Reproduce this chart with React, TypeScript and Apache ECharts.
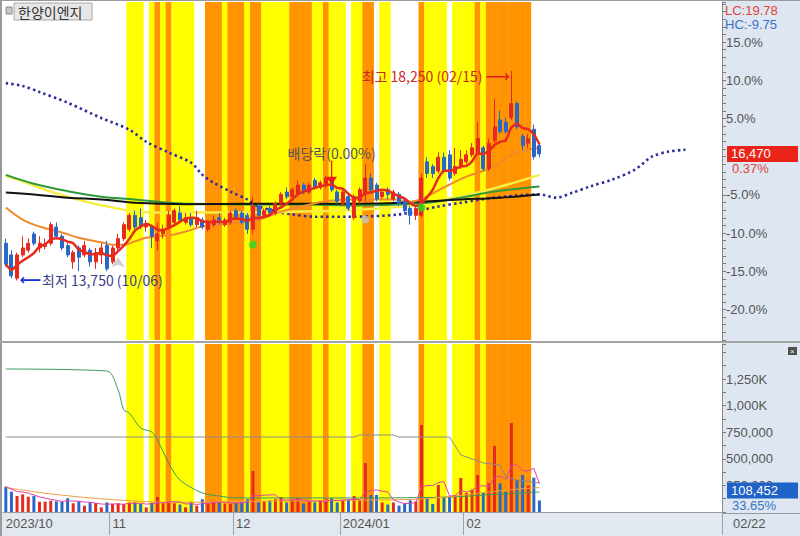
import React, { useEffect, useRef } from "react";
import * as echarts from "echarts";

const TITLE = "한양이엔지";
const LAST_DATE = "02/22";
const TOTAL_SLOTS = 128;
const MONTH_START = [0, 19, 41, 60, 82];
const MONTH_LABEL = ["2023/10", "11", "12", "2024/01", "02"];

const OPEN = [
  14550, 14300, 13800, 14300, 14400, 14750, 14450, 14480, 14550, 14900, 14700, 14500, 14150, 14450, 14300, 14400, 14150, 14300, 14500,
  14150, 14450, 14650, 14850, 15150, 15100, 14900, 14900, 14600, 14750, 14900, 15000, 15200, 15000, 15100, 14950, 15050, 14850, 14950, 15100, 14950, 15000,
  15250, 15200, 15150, 14850, 15350, 15150, 15300, 15200, 15400, 15650, 15550, 15600, 15800, 15650, 15900, 15750, 15800, 15900, 15650,
  15400, 15550, 15100, 15450, 15600, 15950, 15800, 15550, 15700, 15500, 15600, 15450, 15300, 15150, 15150, 16300, 16200, 16100, 16400, 16450, 16050, 16200,
  16300, 16450, 16500, 16600, 16150, 16750, 17200, 17150, 17250, 17550, 16850, 16700, 17000, 16650,
];
const HIGH = [
  14650, 14400, 14350, 14700, 14650, 14800, 14700, 14650, 15000, 15000, 14750, 14550, 14400, 14500, 14600, 14450, 14450, 14550, 14600,
  14500, 14750, 15000, 15200, 15250, 15300, 15050, 14950, 15000, 14950, 15250, 15300, 15350, 15200, 15200, 15250, 15100, 15050, 15150, 15200, 15100, 15250,
  15300, 15250, 15200, 15550, 15400, 15300, 15350, 15450, 15650, 15750, 15750, 15900, 15850, 15850, 15950, 15900, 16000, 15950, 15700,
  15700, 15600, 15600, 15750, 16250, 16050, 15850, 15700, 15750, 15700, 15650, 15500, 15350, 15350, 16050, 16400, 16250, 16500, 16500, 16550, 16600, 16550,
  16550, 16700, 17150, 16650, 16800, 17650, 17400, 17250, 18250, 17600, 16900, 16900, 17100, 16700,
];
const LOW = [
  14050, 13800, 13750, 14250, 14350, 14500, 14350, 14420, 14500, 14650, 14400, 14250, 14000, 13950, 14250, 14050, 14000, 14100, 13950,
  14100, 14400, 14600, 14800, 14850, 14850, 14800, 14450, 14400, 14650, 14850, 14950, 15000, 14950, 14900, 14900, 14850, 14800, 14900, 14950, 14900, 14950,
  15050, 14950, 14750, 14750, 15050, 15100, 15150, 15150, 15350, 15500, 15500, 15550, 15600, 15600, 15700, 15700, 15750, 15650, 15400,
  15350, 15250, 15050, 15400, 15450, 15650, 15450, 15500, 15500, 15450, 15350, 15200, 14950, 15050, 15100, 15950, 15950, 16050, 16050, 15900, 16000, 16150,
  16250, 16400, 16450, 16100, 16100, 16700, 16900, 16900, 17200, 17000, 16550, 16600, 16350, 16400,
];
const CLOSE = [
  14100, 13850, 14300, 14450, 14550, 14550, 14550, 14530, 14950, 14700, 14450, 14300, 14350, 14250, 14500, 14150, 14350, 14450, 14000,
  14450, 14650, 14950, 15150, 14900, 14900, 14950, 14700, 14750, 14850, 15150, 15250, 15050, 15100, 14950, 15100, 14900, 15000, 15050, 15000, 15050, 15200,
  15100, 15000, 14850, 15350, 15150, 15250, 15200, 15400, 15600, 15550, 15700, 15800, 15650, 15800, 15750, 15850, 15950, 15700, 15450,
  15650, 15300, 15550, 15700, 15950, 15700, 15500, 15650, 15600, 15650, 15400, 15250, 15150, 15300, 15950, 16050, 16050, 16400, 16100, 15950, 16200, 16350,
  16450, 16600, 16800, 16150, 16700, 17050, 16950, 16950, 17550, 17050, 16650, 16800, 16410, 16470,
];
const VOLUME = [
  238000, 191000, 150000, 166000, 144000, 150000, 97000, 97000, 106000, 100000, 97000, 129000, 82000, 100000, 59000, 90000, 82000, 44000, 90000,
  75000, 82000, 75000, 88000, 90000, 75000, 44000, 88000, 141000, 82000, 97000, 82000, 70000, 44000, 97000, 59000, 120000, 82000, 97000, 88000, 82000, 75000,
  82000, 97000, 120000, 385000, 90000, 100000, 110000, 120000, 140000, 90000, 110000, 130000, 80000, 100000, 90000, 110000, 120000, 130000, 90000,
  110000, 120000, 150000, 110000, 460000, 160000, 160000, 90000, 70000, 90000, 60000, 80000, 110000, 100000, 818000, 140000, 75000, 254000, 140000, 140000, 160000, 320000,
  180000, 210000, 348000, 180000, 270000, 620000, 270000, 190000, 836000, 300000, 348000, 250000, 322294, 108452,
];
// 0 = none, 1 = yellow, 2 = orange
const BAND = [
  0, 0, 0, 0, 0, 0, 0, 0, 0, 0, 0, 0, 0, 0, 0, 0, 0, 0, 0, 0, 0, 0,
  1, 1, 1, 0, 1, 2, 1, 2, 1, 1, 1, 1, 0, 0, 2, 2, 2, 1, 2, 2, 2, 1, 2, 2,
  1, 1, 1, 1, 1, 2, 2, 2, 2, 1, 1, 2, 1, 1, 1, 0, 1, 1, 2, 2, 0, 1, 1,
  0, 0, 0, 0, 0, 2, 1, 1, 1, 1, 0, 1, 1, 1, 1, 2, 1, 2, 2, 2, 2, 2, 2, 2, 2, 0, 0,
];

const MA20_PTS = [[0, 15320], [3, 15060], [6, 14910], [10, 14780], [13, 14670], [17, 14570], [19, 14520], [21, 14520], [23, 14590], [25, 14670], [27, 14700], [30, 14740], [32, 14800], [35, 14910], [38, 14950], [45, 15060], [49, 15230], [54, 15380], [57, 15450], [61, 15490], [63, 15490], [69, 15490], [72, 15440], [74, 15500], [78, 15750], [82, 15980], [87, 16200], [90, 16450], [93, 16560], [95, 16600]];
const MA60_PTS = [[0, 16000], [3, 15880], [8, 15660], [14, 15450], [19, 15320], [23, 15230], [27, 15210], [32, 15210], [44, 15210], [52, 15230], [63, 15270], [74, 15380], [78, 15490], [86, 15700], [95, 16020]];
const MA120_PTS = [[0, 16020], [5, 15830], [11, 15670], [17, 15550], [23, 15490], [29, 15420], [32, 15400], [44, 15380], [52, 15380], [63, 15360], [75, 15420], [81, 15530], [87, 15660], [95, 15770]];
const MA240_PTS = [[0, 15640], [5, 15600], [11, 15530], [17, 15490], [23, 15420], [32, 15390], [44, 15400], [63, 15400], [70, 15420], [81, 15490], [88, 15530], [95, 15600]];
const SPAN_PTS = [[0, 17990], [3, 17930], [6, 17800], [11, 17570], [17, 17240], [22, 16990], [25, 16730], [29, 16500], [33, 16280], [35, 16020], [37, 15850], [40, 15660], [43, 15490], [45, 15340], [47, 15270], [49, 15210], [51, 15170], [55, 15120], [61, 15120], [70, 15170], [77, 15340], [81, 15420], [87, 15530], [95, 15600], [98, 15530], [101, 15640], [104, 15770], [108, 15920], [112, 16130], [115, 16410], [118, 16520], [121, 16560]];

const VOL_GREEN_PTS = [[0, 1344000], [18, 1325000], [20, 1147000], [21, 959000], [22, 930000], [24, 789000], [26, 752000], [27, 677000], [29, 461000], [31, 301000], [35, 179000], [38, 150000], [41, 132000], [47, 132000], [63, 132000], [79, 141000], [88, 169000], [95, 188000]];
const VOL_GRAY_PTS = [[0, 705000], [62, 705000], [63, 724000], [69, 724000], [70, 705000], [79, 705000], [81, 536000], [85, 461000], [88, 442000], [89, 329000], [91, 301000], [95, 273000]];
const VOL_ORANGE_PTS = [[0, 230000], [8, 170000], [18, 120000], [30, 90000], [44, 100000], [60, 110000], [73, 120000], [80, 150000], [88, 200000], [95, 230000]];

const SIGNAL_IDX = [20, 44, 64, 74];
const SIGNAL_PRICE = [14250, 14520, 15060, 15320];
const SIGNAL_KIND = ["up", "green", "gray", "green"];

const EXDIV_IDX = 58;
const EXDIV_PRICE = 16070;
const EXDIV_LABEL = "배당락(0.00%)";

const RED = "#e62a1e";
const BLUE = "#2a68c8";
const FONT = "'Liberation Sans', 'Noto Sans CJK KR', sans-serif";
const KFONT = "'Noto Sans CJK KR', 'Liberation Sans', sans-serif";
const AFONT = "'DejaVu Sans', sans-serif";

function movingAvg(arr: number[], n: number) {
  return arr.map((_, i) => {
    const w = arr.slice(Math.max(0, i - n + 1), i + 1);
    return Math.round(w.reduce((a, b) => a + b, 0) / w.length);
  });
}
const fmt = (v: number) => v.toLocaleString("en-US");

export default function App() {
  const ref = useRef<HTMLDivElement>(null);
  useEffect(() => {
    if (!ref.current) return;
    const chart = echarts.init(ref.current, undefined, { renderer: "svg" });
    const n = CLOSE.length;
    const lastClose = CLOSE[n - 1];
    const prevClose = CLOSE[n - 2];
    const BASE = prevClose;
    const lastVol = VOLUME[n - 1];
    const prevVol = VOLUME[n - 2];
    const lowest = Math.min(...LOW);
    const highest = Math.max(...HIGH);
    const lowIdx = LOW.indexOf(lowest);
    const highIdx = HIGH.indexOf(highest);
    const slots = Array.from({ length: TOTAL_SLOTS }, (_, i) => String(i));
    const ma5 = movingAvg(CLOSE, 5);
    const vma5 = movingAvg(VOLUME, 5);
    const bandData = BAND.map((b) => (b ? { value: 1, itemStyle: { color: b === 1 ? "#ffff00" : "#ff9400" } } : null));

    const option: any = {
      animation: false,
      textStyle: { fontFamily: FONT },
      grid: [
        { left: 3, top: 2, width: 719, height: 338 },
        { left: 3, top: 344, width: 719, height: 168 },
      ],
      xAxis: [
        { type: "category", gridIndex: 0, data: slots, boundaryGap: true, axisLine: { show: false }, axisTick: { show: false }, axisLabel: { show: false }, splitLine: { show: false } },
        { type: "category", gridIndex: 0, data: slots, show: false },
        {
          type: "category", gridIndex: 1, data: slots, boundaryGap: true,
          axisLine: { show: true, lineStyle: { color: "#9a9a9a" } },
          axisTick: { show: true, length: 23, interval: (i: number) => MONTH_START.includes(i) && i > 0, lineStyle: { color: "#9aa3ad" } },
          axisLabel: {
            interval: (i: number) => MONTH_START.includes(i),
            formatter: (_v: string, i: number) => MONTH_LABEL[MONTH_START.indexOf(i)] ?? "",
            align: "left", margin: 5, color: "#555", fontSize: 13, fontFamily: FONT,
          },
          splitLine: { show: false },
        },
        { type: "category", gridIndex: 1, data: slots, show: false },
      ],
      yAxis: [
        {
          type: "value", gridIndex: 0, position: "right",
          min: BASE * 0.76, max: BASE * 1.2025, interval: BASE * 0.01,
          axisLine: { show: true, lineStyle: { color: "#8a8a8a" } },
          axisTick: { show: true, length: 4, lineStyle: { color: "#7a7a7a" } },
          splitLine: { show: false },
          axisLabel: {
            margin: 4, color: "#555", fontSize: 13, fontFamily: FONT,
            formatter: (v: number) => {
              const p = (v / BASE - 1) * 100;
              const r = Math.round(p);
              if (Math.abs(p - r) > 0.1 || r % 5 !== 0 || r === 0 || r > 15) return "";
              return r.toFixed(1) + "%";
            },
          },
        },
        {
          type: "value", gridIndex: 1, position: "right", min: 0, max: 1579000, interval: 125000,
          axisLine: { show: true, lineStyle: { color: "#8a8a8a" } },
          axisTick: { show: true, length: 4, lineStyle: { color: "#7a7a7a" } },
          splitLine: { show: false },
          axisLabel: {
            margin: 4, color: "#555", fontSize: 13, fontFamily: FONT,
            formatter: (v: number) => {
              if (v <= 0 || v % 250000 !== 0 || v > 1250000) return "";
              return v >= 1000000 ? fmt(v / 1000) + "K" : fmt(v);
            },
          },
        },
        { type: "value", gridIndex: 0, min: 0, max: 1, show: false },
        { type: "value", gridIndex: 1, min: 0, max: 1, show: false },
      ],
      series: [
        { type: "bar", name: "band1", xAxisIndex: 1, yAxisIndex: 2, data: bandData, barWidth: 6, silent: true, z: 0 },
        { type: "bar", name: "band2", xAxisIndex: 3, yAxisIndex: 3, data: bandData, barWidth: 6, silent: true, z: 0 },
        { type: "line", name: "span", xAxisIndex: 0, yAxisIndex: 0, data: SPAN_PTS, showSymbol: false, smooth: 0.3, lineStyle: { color: "#2b2b9c", width: 2.6, type: [2.4, 3.2] }, z: 2 },
        { type: "line", name: "MA60", xAxisIndex: 0, yAxisIndex: 0, data: MA60_PTS, showSymbol: false, smooth: 0.4, lineStyle: { color: "#f6ee40", width: 2.5 }, z: 2 },
        { type: "line", name: "MA120", xAxisIndex: 0, yAxisIndex: 0, data: MA120_PTS, showSymbol: false, smooth: 0.4, lineStyle: { color: "#2f9a3c", width: 2 }, z: 2 },
        { type: "line", name: "MA240", xAxisIndex: 0, yAxisIndex: 0, data: MA240_PTS, showSymbol: false, smooth: 0.4, lineStyle: { color: "#111111", width: 2 }, z: 2 },
        { type: "line", name: "MA20", xAxisIndex: 0, yAxisIndex: 0, data: MA20_PTS, showSymbol: false, smooth: 0.4, lineStyle: { color: "#f08a2c", width: 2 }, z: 2 },
        {
          type: "candlestick", name: "price", xAxisIndex: 0, yAxisIndex: 0, barWidth: 3.5,
          data: OPEN.map((o, i) => [o, CLOSE[i], LOW[i], HIGH[i]]),
          itemStyle: { color: RED, color0: BLUE, borderColor: RED, borderColor0: BLUE, borderWidth: 1 },
          z: 3,
          markPoint: {
            silent: true,
            data: [
              {
                coord: [highIdx, highest], symbol: "circle", symbolSize: 1, itemStyle: { color: "transparent" },
                label: { show: true, position: "left", distance: 1, offset: [0, 5], formatter: `{t|최고 ${fmt(highest)} (02/15)}{a|⟶}`,
                  rich: { t: { color: "#c8281e", fontSize: 14, fontFamily: KFONT }, a: { color: "#e02020", fontSize: 17, padding: [0, 0, 0, 3], fontFamily: AFONT } } },
              },
              {
                coord: [lowIdx, lowest], symbol: "circle", symbolSize: 1, itemStyle: { color: "transparent" },
                label: { show: true, position: "right", distance: 2, offset: [0, 0], formatter: `{a|⟵}{t|최저 ${fmt(lowest)} (10/06)}`,
                  rich: { t: { color: "#3a3f86", fontSize: 14, fontFamily: KFONT }, a: { color: "#1430e0", fontSize: 15, fontWeight: "bold", fontFamily: AFONT, padding: [0, 1, 0, 0] } } },
              },
              {
                coord: [EXDIV_IDX, EXDIV_PRICE], symbol: "path://M4.4 0 H5.6 V15 H10 L5 22 L0 15 H4.4 Z", symbolSize: [11, 24],
                itemStyle: { color: "#e8201a" },
                label: { show: true, position: "top", distance: 1, formatter: EXDIV_LABEL, color: "#555", fontSize: 14, fontFamily: KFONT },
              },
            ],
          },
        },
        {
          type: "line", name: "MA5", xAxisIndex: 0, yAxisIndex: 0, data: ma5, showSymbol: false, smooth: 0.2,
          lineStyle: { color: RED, width: 2.5 }, z: 4,
        },
        {
          type: "scatter", name: "signal", xAxisIndex: 0, yAxisIndex: 0, z: 5,
          data: SIGNAL_IDX.map((idx, i) => ({
            value: [idx, SIGNAL_PRICE[i]],
            symbol: SIGNAL_KIND[i] === "up" ? "arrow" : "circle",
            symbolSize: SIGNAL_KIND[i] === "up" ? 10 : 8,
            itemStyle: { color: SIGNAL_KIND[i] === "green" ? "#22e022" : "#c4c4c4" },
          })),
        },
        {
          type: "bar", name: "volume", xAxisIndex: 2, yAxisIndex: 1, barWidth: 3, z: 3,
          data: VOLUME.map((v, i) => ({ value: v, itemStyle: { color: CLOSE[i] >= OPEN[i] ? RED : BLUE } })),
        },
        { type: "line", name: "volGreen", xAxisIndex: 2, yAxisIndex: 1, data: VOL_GREEN_PTS, showSymbol: false, smooth: 0.3, lineStyle: { color: "#3a9a5e", width: 1 }, z: 4 },
        { type: "line", name: "volGray", xAxisIndex: 2, yAxisIndex: 1, data: VOL_GRAY_PTS, showSymbol: false, lineStyle: { color: "#8c8c8c", width: 1 }, z: 4 },
        { type: "line", name: "volOrange", xAxisIndex: 2, yAxisIndex: 1, data: VOL_ORANGE_PTS, showSymbol: false, smooth: 0.3, lineStyle: { color: "#f0a040", width: 1 }, z: 4 },
        { type: "line", name: "volMA5", xAxisIndex: 2, yAxisIndex: 1, data: vma5, showSymbol: false, lineStyle: { color: "#e040a8", width: 1 }, z: 4 },
      ],
    };
    chart.setOption(option);

    const yPrice = chart.convertToPixel({ yAxisIndex: 0 } as any, lastClose) as unknown as number;
    const yVolRaw = chart.convertToPixel({ yAxisIndex: 1 } as any, lastVol) as unknown as number;
    const yVol = Math.min(yVolRaw, 490.5);
    const pricePct = ((lastClose / prevClose - 1) * 100).toFixed(2) + "%";
    const volPct = ((lastVol / prevVol) * 100).toFixed(2) + "%";
    const lc = ((lastClose / lowest - 1) * 100).toFixed(2);
    const hc = ((lastClose / highest - 1) * 100).toFixed(2);
    const txt = (text: string, x: number, y: number, fill: string, size = 13, family = FONT, z = 100) => ({
      type: "text", z, silent: true,
      style: { text, x, y, fill, fontSize: size, fontFamily: family, verticalAlign: "middle", align: "left" },
    });

    chart.setOption({
      graphic: [
        { type: "rect", z: -10, silent: true, shape: { x: 723, y: 0, width: 77, height: 536 }, style: { fill: "#dde6f1" } },
        { type: "rect", z: -10, silent: true, shape: { x: 0, y: 513, width: 723, height: 23 }, style: { fill: "#e2e8f0" } },
        { type: "line", z: 50, silent: true, shape: { x1: 0, y1: 0.5, x2: 800, y2: 0.5 }, style: { stroke: "#9a9a9a", lineWidth: 1 } },
        { type: "line", z: 50, silent: true, shape: { x1: 1, y1: 0, x2: 1, y2: 536 }, style: { stroke: "#9a9a9a", lineWidth: 2 } },
        { type: "line", z: 50, silent: true, shape: { x1: 0, y1: 342, x2: 800, y2: 342 }, style: { stroke: "#a4a4a4", lineWidth: 2 } },
        { type: "line", z: 50, silent: true, shape: { x1: 723, y1: 513.5, x2: 800, y2: 513.5 }, style: { stroke: "#9a9a9a", lineWidth: 1 } },
        { type: "rect", z: 60, silent: true, shape: { x: 6, y: 7, width: 6, height: 7 }, style: { fill: "#c8c8c8", stroke: "#8a8a8a", lineWidth: 1 } },
        { type: "rect", z: 60, silent: true, shape: { x: 14, y: 3, width: 78, height: 17 }, style: { fill: "#e6e6e6", stroke: "#a8a8a8", lineWidth: 1 } },
        txt(TITLE, 18, 11.5, "#333", 14, KFONT, 61),
        txt(`LC:${lc}`, 725, 10, "#e0443a", 13),
        txt(`HC:${hc}`, 725, 24, "#3a72c4", 13),
        { type: "rect", z: 100, silent: true, shape: { x: 727, y: yPrice - 8, width: 71, height: 16 }, style: { fill: "#ea2418" } },
        txt(fmt(lastClose), 731, yPrice, "#ffffff", 13, FONT, 101),
        txt(pricePct, 732, yPrice + 15, "#e0443a", 13),
        { type: "rect", z: 100, silent: true, shape: { x: 727, y: yVol - 8, width: 71, height: 16 }, style: { fill: "#1f62c8" } },
        txt(fmt(lastVol), 731, yVol, "#ffffff", 13, FONT, 101),
        txt(volPct, 732, yVol + 15, "#3a72c4", 13),
        txt(LAST_DATE, 733, 523, "#555", 13),
        { type: "rect", z: 100, silent: true, shape: { x: 788, y: 347, width: 9, height: 8 }, style: { fill: "#505050" } },
        txt("×", 790, 351, "#ffffff", 8),
      ],
    });

    return () => chart.dispose();
  }, []);
  return <div ref={ref} style={{ position: "fixed", left: 0, top: 0, width: 800, height: 536, background: "#fff" }} />;
}
